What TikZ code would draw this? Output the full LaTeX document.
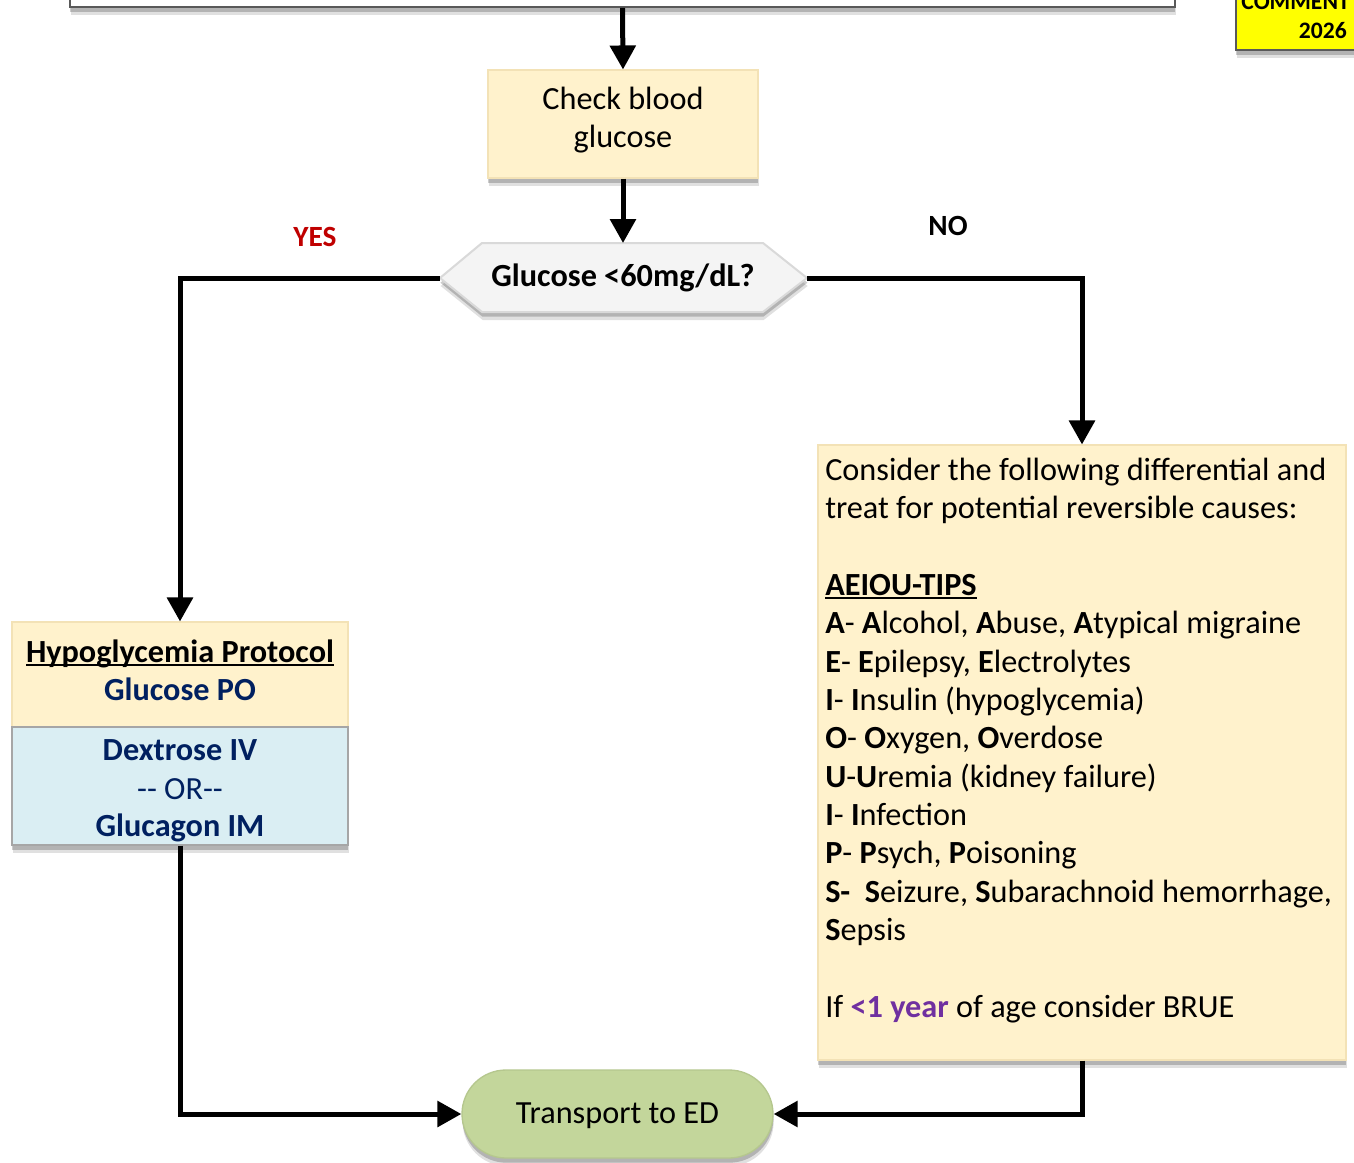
\documentclass[tikz,border=0pt]{standalone}
\usepackage{fontspec}
\setmainfont{Carlito}
\usetikzlibrary{arrows.meta,shadows,shapes.misc}
\definecolor{ylw}{HTML}{FFF2CC}
\definecolor{ylwb}{HTML}{F3E2B6}
\definecolor{blu}{HTML}{DAEEF3}
\definecolor{blub}{HTML}{A6A6A6}
\definecolor{navy}{HTML}{002060}
\definecolor{grn}{HTML}{C3D69B}
\definecolor{grnb}{HTML}{B5C78E}
\definecolor{redc}{HTML}{C00000}
\definecolor{purp}{HTML}{7030A0}
\definecolor{hexf}{HTML}{F4F4F4}
\definecolor{hexb}{HTML}{D9D9D9}
\definecolor{cmty}{HTML}{FFFF00}
\definecolor{dgray}{HTML}{595959}
\newcommand\pxu{0.75pt}
\newcommand\fmain{\fontsize{24.2pt}{29pt}\selectfont}
\newcommand\fsmall{\fontsize{22pt}{26pt}\selectfont}
\newcommand\fcmt{\fontsize{17.7pt}{21pt}\selectfont}
\newcommand\myul[1]{\setbox0\hbox{#1}\rlap{\rule[-2.8pt]{\wd0}{1.4pt}}\box0}
\begin{document}
\begin{tikzpicture}[x=0.75pt,y=-0.75pt,
  conn/.style={line width=3.75pt,-{Triangle[width=19pt,length=18pt]}},
  shd/.style={drop shadow={shadow xshift=0.5pt,shadow yshift=-6pt,opacity=0.12,fill=black},
              drop shadow={shadow xshift=0.3pt,shadow yshift=-3.5pt,opacity=0.2,fill=black}},
  boxy/.style={draw=ylwb,fill=ylw,line width=0.8pt,inner sep=0pt,shd},
  lbl/.style={inner sep=0pt,anchor=base,font=\fmain},
  lbll/.style={inner sep=0pt,anchor=base west,font=\fmain},
]
\useasboundingbox (0,0) rectangle (1354,1163);
\fill[white] (0,0) rectangle (1354,1163);
\clip (0,0) rectangle (1354,1163);

% top box (only its bottom edge is visible)
\node[draw=dgray,fill=white,line width=1.2pt,inner sep=0pt,
      minimum width=1105*\pxu,minimum height=47*\pxu,shd] (topbox) at (622.5,-16.5) {};

% comment box
\node[draw=dgray,fill=cmty,line width=1.5pt,inner sep=0pt,
      minimum width=164*\pxu,minimum height=90*\pxu,shd] (cmt) at (1318,5) {};
\node[inner sep=0pt,anchor=base east,font=\fcmt\bfseries] (cmt1) at (1350,10) {COMMENT};
\node[inner sep=0pt,anchor=base east,font=\fcmt\bfseries] (cmt2) at (1347,39) {2026};

% check blood glucose
\node[boxy,minimum width=270*\pxu,minimum height=108*\pxu] (check) at (623,124) {};
\node[lbl] (check1) at (623,109) {Check blood};
\node[lbl] (check2) at (623,147) {glucose};

% decision hexagon
\coordinate (hexL) at (440,278);
\coordinate (hexR) at (807,278);
\coordinate (hexT) at (623,243);
\filldraw[fill=hexf,draw=hexb,line width=1.5pt,shd]
  (hexL) -- (482,243) -- (763,243) -- (hexR) -- (763,312) -- (482,312) -- cycle;
\node[lbl,font=\fmain\bfseries] (dec) at (623,286) {Glucose <60mg/dL?};

\node[lbl,font=\fsmall\bfseries,text=redc] (yes) at (315,246) {YES};
\node[lbl,font=\fsmall\bfseries] (no) at (948,235) {NO};

% hypoglycemia protocol
\node[boxy,minimum width=336*\pxu,minimum height=105*\pxu] (proto) at (180,674.5) {};
\node[draw=blub,fill=blu,line width=0.8pt,inner sep=0pt,
      minimum width=336*\pxu,minimum height=118*\pxu,shd] (treat) at (180,786) {};
\node[lbl,font=\fmain\bfseries] (p1) at (180,662) {\myul{Hypoglycemia Protocol}};
\node[lbl,font=\fmain\bfseries,text=navy] (p2) at (180,700) {Glucose PO};
\node[lbl,font=\fmain\bfseries,text=navy] (p3) at (180,760) {Dextrose IV};
\node[lbl,text=navy] (p4) at (180,799) {{-}{-} OR{-}{-}};
\node[lbl,font=\fmain\bfseries,text=navy] (p5) at (180,836) {Glucagon IM};

% differential box
\node[boxy,minimum width=528*\pxu,minimum height=615*\pxu] (diff) at (1082,752.5) {};
\node[lbll] (d1) at (825,480) {Consider the following differential and};
\node[lbll] (d2) at (825,518.5) {treat for potential reversible causes:};
\node[lbll] (d3) at (825,595) {\textbf{\myul{AEIOU-TIPS}}};
\node[lbll] (d4) at (825,633.5) {\textbf{A}- \textbf{A}lcohol, \textbf{A}buse, \textbf{A}typical migraine};
\node[lbll] (d5) at (825,672) {\textbf{E}- \textbf{E}pilepsy, \textbf{E}lectrolytes};
\node[lbll] (d6) at (825,710) {\textbf{I}- \textbf{I}nsulin (hypoglycemia)};
\node[lbll] (d7) at (825,748.5) {\textbf{O}- \textbf{O}xygen, \textbf{O}verdose};
\node[lbll] (d8) at (825,787) {\textbf{U}-\textbf{U}remia (kidney failure)};
\node[lbll] (d9) at (825,825) {\textbf{I}- \textbf{I}nfection};
\node[lbll] (d10) at (825,863.5) {\textbf{P}- \textbf{P}sych, \textbf{P}oisoning};
\node[lbll] (d11) at (825,902) {\textbf{S-}\ \ \textbf{S}eizure, \textbf{S}ubarachnoid hemorrhage,};
\node[lbll] (d12) at (825,940) {\textbf{S}epsis};
\node[lbll] (d13) at (825,1017) {If \textcolor{purp}{\textbf{<1 year}} of age consider BRUE};

% transport
\node[rounded rectangle,draw=grnb,fill=grn,line width=1pt,inner sep=0pt,
      minimum width=311*\pxu,minimum height=88*\pxu,shd] (ed) at (617.5,1114) {};
\node[lbl] (edt) at (617.5,1123) {Transport to ED};

% connectors
\draw[conn] (topbox.south) -- (check.north);
\draw[conn] (check.south) -- (hexT);
\draw[conn] (hexL) -| (proto.north);
\draw[conn] (hexR) -| (diff.north);
\draw[conn] (treat.south) |- (ed.west);
\draw[conn] (diff.south) |- (ed.east);
\end{tikzpicture}
\end{document}
